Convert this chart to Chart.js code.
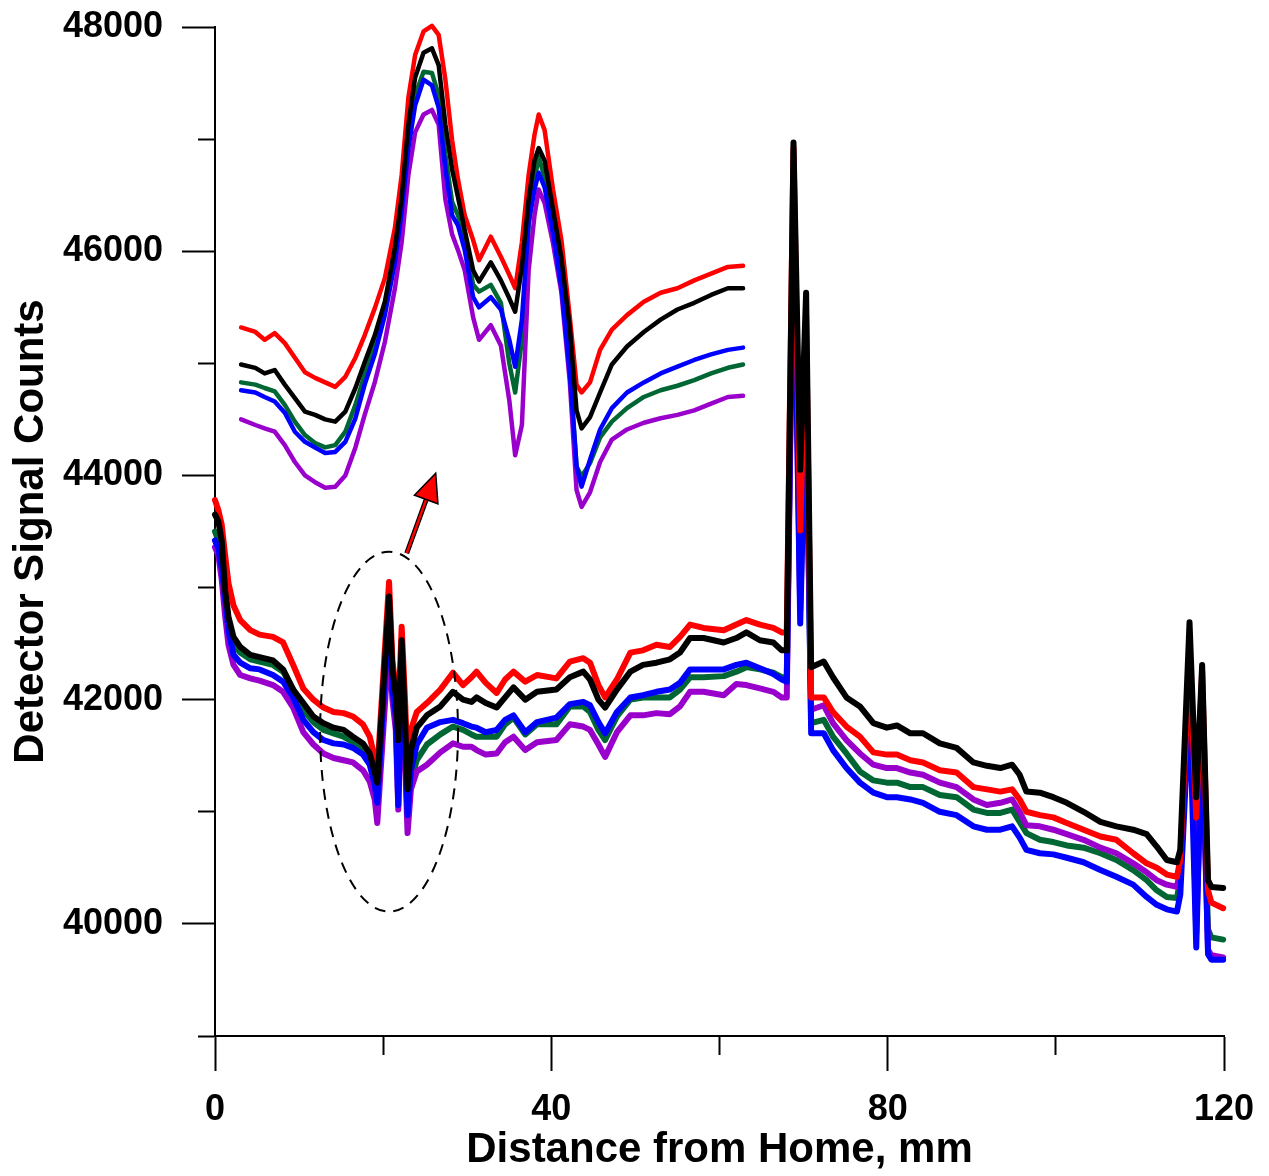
<!DOCTYPE html>
<html>
<head>
<meta charset="utf-8">
<title>Detector Signal Counts</title>
<script src="https://cdn.jsdelivr.net/npm/chart.js@4.4.1/dist/chart.umd.min.js"></script>
<style>
    html, body { margin: 0; padding: 0; background: #fff; }
    #wrap { width: 1269px; height: 1176px; position: relative; }
</style>
</head>
<body>
<div id="wrap"><canvas id="scanChart"></canvas></div>
<script>
// Full-length scans, positions in mm
const scanX = [
    0, 0.4, 0.8, 1.2, 1.6, 2.2, 3.0, 4.2, 5.3, 6.9,
    8.1, 9.3, 10.5, 11.7, 12.9, 14.1, 15.3, 16.4, 17.6, 18.4,
    19.0, 19.3, 20.7, 21.1, 21.5, 21.8, 22.2, 22.6, 22.9, 23.3,
    24.0, 25.2, 26.8, 28.3, 29.5, 30.5, 31.1, 32.2, 33.5, 34.5,
    35.5, 36.9, 38.3, 40.6, 42.2, 43.8, 44.6, 45.6, 46.4, 47.8,
    49.4, 50.9, 52.5, 54.1, 55.3, 56.5, 58.1, 60.5, 62.0, 63.2,
    64.8, 66.4, 67.4, 68.0, 68.8, 69.6, 70.3, 70.9, 72.4, 73.5,
    75.1, 76.7, 78.3, 79.9, 81.1, 82.7, 84.2, 86.2, 88.2, 90.2,
    91.8, 93.4, 94.8, 95.7, 96.5, 98.1, 99.7, 101.3, 103.3, 105.3,
    107.2, 109.2, 110.8, 112.0, 113.2, 114.4, 114.8, 115.9, 116.7, 117.4,
    118.1, 118.5, 119.9
];
const scanRed = [
    43780, 43690, 43560, 43290, 43040, 42840, 42710, 42620, 42580, 42560,
    42510, 42310, 42100, 42000, 41930, 41890, 41880, 41850, 41780, 41670,
    41480, 41350, 43050, 42350, 42090, 41850, 42650, 42000, 41420, 41730,
    41890, 41970, 42090, 42240, 42130, 42200, 42250, 42150, 42060, 42180,
    42250, 42160, 42220, 42190, 42340, 42370, 42330, 42130, 42020, 42180,
    42420, 42440, 42490, 42470, 42560, 42670, 42640, 42620, 42670, 42710,
    42670, 42640, 42600, 42600, 46920, 43510, 45410, 42020, 42020, 41890,
    41760, 41670, 41530, 41510, 41510, 41460, 41440, 41370, 41350, 41220,
    41200, 41180, 41200, 41110, 41000, 40970, 40950, 40900, 40840, 40780,
    40750, 40630, 40540, 40500, 40440, 40420, 40570, 42400, 40950, 42250,
    40300, 40190, 40140
];
const scanBlack = [
    43650, 43590, 43420, 42980, 42740, 42560, 42470, 42400, 42380, 42350,
    42270, 42090, 41970, 41850, 41790, 41750, 41730, 41670, 41610, 41520,
    41350, 41260, 42920, 42270, 42040, 41640, 42530, 41820, 41200, 41550,
    41750, 41860, 41940, 42070, 42000, 41980, 42020, 41970, 41930, 42020,
    42110, 42000, 42070, 42090, 42200, 42250, 42180, 42000, 41930, 42090,
    42250, 42310, 42330, 42360, 42420, 42550, 42550, 42510, 42550, 42600,
    42530, 42510, 42440, 42440, 46970, 44050, 45630, 42290, 42340, 42200,
    42020, 41940, 41790, 41750, 41770, 41700, 41700, 41610, 41570, 41440,
    41410, 41390, 41420, 41330, 41180, 41170, 41130, 41080, 41000, 40910,
    40870, 40840, 40800, 40690, 40570, 40550, 40660, 42690, 41130, 42310,
    40390, 40330, 40320
];
const scanBlue = [
    43420, 43350, 43170, 42910, 42620, 42400, 42330, 42280, 42270, 42220,
    42160, 42020, 41820, 41710, 41640, 41610, 41600, 41570, 41510, 41420,
    41240, 41080, 42830, 42090, 41860, 41060, 42350, 41640, 40970, 41370,
    41600, 41750, 41800, 41820, 41790, 41760, 41750, 41710, 41730, 41820,
    41860, 41710, 41800, 41840, 41960, 41980, 41950, 41800, 41700, 41890,
    42020, 42040, 42070, 42090, 42150, 42270, 42270, 42270, 42310, 42330,
    42280, 42230, 42180, 42160, 46530, 42680, 44850, 41700, 41700, 41550,
    41390, 41260, 41170, 41130, 41130, 41110, 41080, 41000, 40970, 40870,
    40840, 40840, 40870, 40770, 40660, 40630, 40620, 40590, 40550, 40480,
    40420, 40350, 40240, 40170, 40130, 40110, 40260, 42000, 39790, 41860,
    39730, 39680, 39680
];
const scanPurple = [
    43360, 43290, 43070, 42750, 42490, 42310, 42220, 42190, 42170, 42130,
    42070, 41930, 41710, 41600, 41520, 41480, 41460, 41440, 41370, 41270,
    41110, 40900, 42530, 42000, 41730, 41020, 42200, 41460, 40810, 41200,
    41360, 41420, 41530, 41610, 41580, 41580, 41550, 41510, 41520, 41620,
    41670, 41550, 41620, 41640, 41780, 41760, 41730, 41600, 41490, 41710,
    41860, 41860, 41880, 41870, 41940, 42070, 42070, 42040, 42140, 42130,
    42100, 42070, 42020, 42020, 46370, 42800, 44920, 41910, 41950, 41790,
    41640, 41520, 41420, 41390, 41390, 41350, 41330, 41260, 41220, 41110,
    41060, 41080, 41110, 41000, 40880, 40870, 40840, 40800, 40750, 40680,
    40630, 40540, 40460, 40390, 40350, 40330, 40480, 42370, 39920, 41690,
    39770, 39720, 39700
];
const scanGreen = [
    43500, 43420, 43250, 42980, 42710, 42490, 42420, 42360, 42340, 42310,
    42250, 42090, 41910, 41800, 41730, 41700, 41670, 41620, 41550, 41460,
    41280, 41130, 42890, 42180, 41950, 41280, 42440, 41640, 40930, 41280,
    41460, 41600, 41690, 41760, 41730, 41690, 41670, 41670, 41670, 41780,
    41840, 41690, 41780, 41780, 41940, 41940, 41890, 41730, 41640, 41850,
    42000, 42020, 42020, 42020, 42090, 42200, 42200, 42210, 42250, 42290,
    42270, 42240, 42200, 42200, 46480, 43070, 44760, 41790, 41820, 41670,
    41520, 41360, 41280, 41260, 41260, 41220, 41220, 41150, 41130, 41020,
    40990, 40990, 41020, 40910, 40810, 40750, 40730, 40700, 40680, 40630,
    40570, 40480, 40390, 40300, 40240, 40230, 40390, 42340, 40210, 41730,
    39950, 39880, 39860
];

// Enlarged view of the circled region, drawn above the scans
const zoomX = [
    3.1, 4.8, 5.9, 7.1, 8.3, 9.5, 10.7, 11.9, 13.1, 14.3,
    15.5, 16.7, 17.8, 19.0, 20.2, 21.4, 22.2, 23.0, 23.8, 24.8,
    25.8, 26.6, 27.4, 28.2, 28.9, 29.7, 30.7, 31.4, 32.8, 34.0,
    35.0, 35.7, 36.5, 37.3, 38.0, 38.5, 39.2, 40.2, 41.2, 42.2,
    43.0, 43.6, 44.6, 45.8, 47.2, 49.0, 51.0, 53.0, 55.0, 57.0,
    59.0, 61.0, 62.8
];
const zoomRed = [
    45320, 45280, 45210, 45270, 45180, 45050, 44920, 44870, 44830, 44790,
    44880, 45050, 45250, 45490, 45760, 46210, 46680, 47370, 47750, 47960,
    48010, 47930, 47530, 46990, 46640, 46320, 46100, 45920, 46130, 45950,
    45790, 45670, 46080, 46680, 47040, 47220, 47080, 46550, 46100, 45410,
    44810, 44740, 44830, 45120, 45300, 45430, 45550, 45630, 45670, 45740,
    45800, 45860, 45870
];
const zoomBlack = [
    44990, 44960, 44910, 44940, 44810, 44690, 44570, 44540, 44500, 44480,
    44570, 44780, 45010, 45250, 45550, 46030, 46480, 47130, 47550, 47770,
    47810, 47660, 47130, 46730, 46480, 46190, 45830, 45730, 45900, 45740,
    45580, 45460, 45860, 46460, 46810, 46920, 46810, 46370, 45940, 45320,
    44580, 44420, 44520, 44740, 44990, 45150, 45280, 45390, 45480, 45540,
    45610, 45670, 45670
];
const zoomBlue = [
    44760, 44740, 44700, 44660, 44560, 44390, 44300, 44250, 44200, 44210,
    44300, 44510, 44810, 45080, 45430, 45900, 46350, 46920, 47300, 47530,
    47480, 47280, 46740, 46320, 46230, 46010, 45590, 45500, 45590, 45480,
    45210, 44970, 45390, 46260, 46550, 46700, 46570, 46160, 45680, 44910,
    44080, 43900, 44140, 44410, 44600, 44740, 44830, 44910, 44970, 45030,
    45080, 45120, 45140
];
const zoomPurple = [
    44500, 44450, 44420, 44390, 44270, 44120, 44000, 43940, 43890, 43900,
    44000, 44250, 44540, 44830, 45190, 45670, 46080, 46680, 47060, 47220,
    47260, 47130, 46460, 46150, 46010, 45830, 45410, 45210, 45340, 45160,
    44670, 44180, 44450, 45830, 46320, 46550, 46430, 46070, 45630, 44830,
    43870, 43720, 43850, 44120, 44320, 44410, 44470, 44510, 44540, 44580,
    44640, 44700, 44710
];
const zoomGreen = [
    44830, 44810, 44780, 44750, 44630, 44480, 44360, 44290, 44250, 44270,
    44390, 44630, 44900, 45160, 45490, 45970, 46440, 47010, 47390, 47600,
    47590, 47390, 46860, 46440, 46320, 46120, 45700, 45640, 45700, 45540,
    45000, 44740, 45210, 46230, 46640, 46840, 46660, 46220, 45720, 44970,
    44080, 43990, 44110, 44340, 44480, 44600, 44700, 44760, 44800, 44850,
    44910, 44960, 44990
];

// Dashed ellipse round the double peak and the arrow pointing at the enlarged view
const ringCenter = { x: 20.7, y: 41715 };
const ringRadius = { x: 8.2, y: 1605 };
const arrowFrom = { x: 22.8, y: 43306 };
const arrowTo = { x: 26.25, y: 44020 };

Chart.defaults.font.family = '"Liberation Sans", Arial, Helvetica, sans-serif';
Chart.defaults.color = '#000';

function trace(label, xs, ys, color, width) {
    return {
        label: label,
        data: xs.map((x, i) => ({ x: x, y: ys[i] })),
        borderColor: color,
        backgroundColor: color,
        borderWidth: width,
        pointRadius: 0,
        showLine: true,
        tension: 0,
        borderJoinStyle: 'round',
        borderCapStyle: 'round',
        clip: false
    };
}

const RED = '#ff0000', BLACK = '#000000', BLUE = '#0000ff', PURPLE = '#9900cc', GREEN = '#006633';

const annotations = {
    id: 'annotations',
    afterDatasetsDraw(chart) {
        const { ctx } = chart;
        const xs = chart.scales.x, ys = chart.scales.y;

        // ellipse
        const cx = xs.getPixelForValue(ringCenter.x);
        const cy = ys.getPixelForValue(ringCenter.y);
        const rx = xs.getPixelForValue(ringCenter.x + ringRadius.x) - cx;
        const ry = cy - ys.getPixelForValue(ringCenter.y + ringRadius.y);
        ctx.save();
        ctx.setLineDash([11, 8]);
        ctx.lineWidth = 2;
        ctx.strokeStyle = '#000';
        ctx.beginPath();
        ctx.ellipse(cx, cy, rx, ry, 0, 0, Math.PI * 2);
        ctx.stroke();
        ctx.setLineDash([]);

        // arrow
        const x0 = xs.getPixelForValue(arrowFrom.x), y0 = ys.getPixelForValue(arrowFrom.y);
        const x1 = xs.getPixelForValue(arrowTo.x), y1 = ys.getPixelForValue(arrowTo.y);
        const len = Math.hypot(x1 - x0, y1 - y0);
        const ux = (x1 - x0) / len, uy = (y1 - y0) / len;
        const headLen = 28, headHalf = 12.5;
        const bx = x1 - ux * headLen, by = y1 - uy * headLen;

        ctx.lineCap = 'butt';
        ctx.beginPath();
        ctx.moveTo(x0, y0);
        ctx.lineTo(bx, by);
        ctx.strokeStyle = '#000';
        ctx.lineWidth = 5;
        ctx.stroke();
        ctx.strokeStyle = RED;
        ctx.lineWidth = 2.5;
        ctx.stroke();

        ctx.beginPath();
        ctx.moveTo(x1, y1);
        ctx.lineTo(bx - uy * headHalf, by + ux * headHalf);
        ctx.lineTo(bx + uy * headHalf, by - ux * headHalf);
        ctx.closePath();
        ctx.fillStyle = RED;
        ctx.fill();
        ctx.lineWidth = 1.5;
        ctx.strokeStyle = '#000';
        ctx.stroke();
        ctx.restore();
    }
};

const ctx = document.getElementById('scanChart').getContext('2d');
new Chart(ctx, {
    type: 'scatter',
    data: {
        datasets: [
            trace('Black', scanX, scanBlack, BLACK, 6),
            trace('Red', scanX, scanRed, RED, 6),
            trace('Blue', scanX, scanBlue, BLUE, 6),
            trace('Purple', scanX, scanPurple, PURPLE, 6),
            trace('Green', scanX, scanGreen, GREEN, 6),
            trace('Black (enlarged)', zoomX, zoomBlack, BLACK, 4.5),
            trace('Red (enlarged)', zoomX, zoomRed, RED, 4.5),
            trace('Blue (enlarged)', zoomX, zoomBlue, BLUE, 4.5),
            trace('Purple (enlarged)', zoomX, zoomPurple, PURPLE, 4.5),
            trace('Green (enlarged)', zoomX, zoomGreen, GREEN, 4.5)
        ]
    },
    options: {
        responsive: true,
        maintainAspectRatio: false,
        animation: false,
        layout: {
            padding: { top: 27, right: 45, bottom: 0, left: 0 }
        },
        plugins: {
            legend: { display: false },
            tooltip: { enabled: false }
        },
        scales: {
            x: {
                type: 'linear',
                position: 'bottom',
                min: 0,
                max: 120,
                afterFit: (scale) => {
                    scale.height = 140;
                    scale.paddingLeft = 0;
                    scale.paddingRight = 0;
                },
                ticks: {
                    stepSize: 20,
                    autoSkip: false,
                    maxRotation: 0,
                    padding: 17,
                    font: { size: 36, weight: 'bold' },
                    color: '#000',
                    callback: (v) => (v % 40 === 0 ? String(v) : '')
                },
                grid: {
                    drawOnChartArea: false,
                    tickLength: 35,
                    tickWidth: 2,
                    tickColor: '#000',
                    tickBorderDash: (c) => (c.tick && c.tick.value % 40 !== 0 ? [18, 40] : [])
                },
                border: { color: '#000', width: 2 },
                title: {
                    display: true,
                    text: 'Distance from Home, mm',
                    font: { size: 42, weight: 'bold' },
                    color: '#000',
                    padding: { top: 0, bottom: 0 }
                }
            },
            y: {
                type: 'linear',
                position: 'left',
                min: 39000,
                max: 48000,
                afterFit: (scale) => {
                    scale.width = 215;
                    scale.paddingTop = 0;
                    scale.paddingBottom = 0;
                },
                ticks: {
                    stepSize: 1000,
                    autoSkip: false,
                    padding: 19,
                    font: { size: 36, weight: 'bold' },
                    color: '#000',
                    callback: (v) => (v % 2000 === 0 ? String(v) : '')
                },
                grid: {
                    drawOnChartArea: false,
                    tickLength: 33,
                    tickWidth: 2,
                    tickColor: '#000',
                    tickBorderDash: (c) => (c.tick && c.tick.value % 2000 !== 0 ? [0, 16, 17, 0] : [])
                },
                border: { color: '#000', width: 2 },
                title: {
                    display: true,
                    text: 'Detector Signal Counts',
                    font: { size: 42, weight: 'bold' },
                    color: '#000',
                    padding: { top: 6, bottom: 0 }
                }
            }
        }
    },
    plugins: [annotations]
});
</script>
</body>
</html>
